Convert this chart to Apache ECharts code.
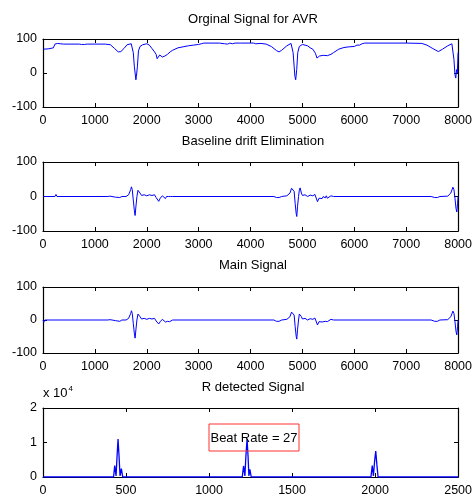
<!DOCTYPE html>
<html>
<head>
<meta charset="utf-8">
<script src="https://cdn.jsdelivr.net/npm/echarts@6/dist/echarts.min.js"></script>
<style>html,body{margin:0;padding:0;background:#fff}#c{width:475px;height:500px}</style>
</head>
<body>
<div id="c"></div>
<script>
// ---- Data ----
var titles = ['Orginal Signal for AVR', 'Baseline drift Elimination', 'Main Signal', 'R detected Signal'];
var signalTicksX = [0, 1000, 2000, 3000, 4000, 5000, 6000, 7000, 8000];
var signalTicksY = [-100, 0, 100];
var rTicksX = [0, 500, 1000, 1500, 2000, 2500];
var rTicksY = [0, 10000, 20000];
var beatRateText = 'Beat Rate = 27';

var originalSignal = [
 [0,70],[100,71],[200,74],[230,85],[260,84],[280,87],[300,84],[330,86],[360,84],[400,85],[500,85],[700,85],
 [720,88],[740,84],[760,87],[800,84],[820,88],[850,85],[1000,85],[1200,85],[1300,83],[1380,72],[1450,62],
 [1500,63],[1560,72],[1620,83],[1700,86],[1720,83],[1740,60],[1760,20],[1775,0],[1790,-20],[1800,-10],
 [1820,20],[1840,65],[1870,78],[1920,83],[2000,86],[2050,82],[2100,72],[2150,62],[2180,55],[2200,42],
 [2220,45],[2250,53],[2280,50],[2300,47],[2350,50],[2400,55],[2450,62],[2500,67],[2600,74],[2700,77],
 [2800,80],[2900,82],[3000,84],[3020,88],[3050,86],[3100,88],[3400,88],[3500,86],[3530,88],[3560,85],
 [3600,88],[3650,86],[3700,88],[3800,88],[4000,88],[4030,85],[4060,88],[4100,86],[4200,87],[4300,85],
 [4400,78],[4500,66],[4550,62],[4600,67],[4700,80],[4780,87],[4800,84],[4820,60],[4840,20],[4855,-10],
 [4870,-20],[4890,10],[4910,60],[4940,78],[5000,84],[5100,80],[5150,74],[5200,70],[5250,58],[5280,44],
 [5300,43],[5330,50],[5400,52],[5480,51],[5550,55],[5600,60],[5700,70],[5800,75],[5900,77],[6000,78],
 [6050,82],[6080,85],[6100,82],[6150,86],[6200,88],[7000,88],[7300,87],[7400,82],[7500,73],[7620,63],
 [7700,70],[7800,80],[7880,86],[7900,82],[7920,40],[7940,-5],[7955,-15],[7970,10],[7985,0],[8000,60]
];

var baselineSignal = [
 [0,0],[30,-3],[60,0],[230,0],[250,6],[270,0],[1250,0],[1270,3],[1290,1],[1310,2],[1330,0],[1400,-2],
 [1480,-3],[1520,0],[1600,0],[1650,5],[1690,20],[1705,28],[1720,20],[1740,-10],[1760,-40],[1775,-55],
 [1790,-30],[1810,0],[1830,18],[1846,23],[1870,10],[1900,3],[1950,5],[2000,2],[2050,5],[2080,0],[2100,3],
 [2150,5],[2180,-3],[2230,-14],[2260,-5],[2300,2],[2330,-2],[2360,-6],[2380,0],[2400,-4],[2420,0],
 [2440,-5],[2460,0],[2500,0],[4450,0],[4500,-3],[4550,-3],[4600,0],[4700,2],[4760,10],[4790,24],
 [4820,28],[4840,15],[4860,-20],[4880,-50],[4891,-58],[4905,-30],[4925,0],[4940,18],[4955,25],[4980,10],
 [5000,3],[5050,5],[5100,0],[5150,4],[5200,2],[5240,6],[5290,-15],[5320,-5],[5350,0],[5380,-6],[5400,0],
 [5440,-4],[5460,2],[5480,-5],[5500,0],[5550,2],[5600,0],[7420,0],[7450,5],[7480,0],[7550,-3],[7600,-3],
 [7650,0],[7800,1],[7860,10],[7900,27],[7920,20],[7940,-5],[7960,-35],[7975,-45],[7990,-20],[8000,0]
];

var mainSignal = [
 [0,0],[15,-7],[35,0],[230,0],[250,6],[270,0],[1250,0],[1270,3],[1290,1],[1310,2],[1330,0],[1400,-2],
 [1480,-4],[1520,0],[1600,0],[1650,5],[1690,20],[1705,28],[1720,20],[1740,-10],[1760,-40],[1775,-55],
 [1790,-30],[1810,0],[1830,18],[1846,22],[1870,10],[1900,3],[1950,5],[2000,2],[2050,5],[2080,0],[2100,3],
 [2150,5],[2180,-3],[2230,-12],[2260,-5],[2300,2],[2330,-2],[2360,-6],[2380,0],[2400,-4],[2420,0],
 [2440,-5],[2460,0],[2500,0],[4450,0],[4500,-4],[4550,-4],[4600,0],[4700,2],[4760,10],[4790,24],
 [4820,28],[4840,15],[4860,-20],[4880,-50],[4891,-58],[4905,-30],[4925,0],[4940,18],[4955,22],[4980,10],
 [5000,3],[5050,5],[5100,0],[5150,4],[5200,2],[5240,6],[5290,-15],[5320,-5],[5350,0],[5380,-6],[5400,0],
 [5440,-4],[5460,2],[5480,-5],[5500,0],[5550,2],[5600,0],[7420,0],[7450,5],[7480,0],[7550,-4],[7600,-4],
 [7650,0],[7800,1],[7860,10],[7900,27],[7920,20],[7940,-5],[7960,-35],[7975,-45],[7990,-20],[8000,0]
];

var rDetected = [
 [0,0],[425,0],[432,3300],[440,300],[446,6000],[452,11000],[458,6000],[464,300],[472,2400],[480,0],
 [1200,0],[1208,3200],[1216,300],[1222,6000],[1229,11000],[1235,6000],[1240,300],[1246,2200],[1254,0],
 [1975,0],[1983,3300],[1990,300],[1997,4500],[2004,7500],[2011,3500],[2018,0],[2500,0]
];

// ---- Chart ----
var FONT = 'Liberation Sans';
var grids = [
  {left: 43, right: 12, top: 39, height: 68},
  {left: 43, right: 12, top: 162, height: 69},
  {left: 43, right: 12, top: 287, height: 66},
  {left: 43, right: 12, top: 408, height: 69}
];
var titleTops = [13, 135, 259, 381];
var seriesData = [originalSignal, baselineSignal, mainSignal, rDetected];

function axisCommon(showLabel, position, min, max, interval, fmt, margin) {
  return {
    type: 'value', position: position, min: min, max: max, interval: interval,
    axisLine: {show: true, onZero: false, lineStyle: {color: '#000', width: 1.2}},
    axisTick: {show: true, inside: true, length: 4, lineStyle: {color: '#000'}},
    splitLine: {show: false},
    axisLabel: {show: showLabel, color: '#000', fontSize: 12.5, fontFamily: FONT, margin: margin,
      formatter: fmt, showMinLabel: true, showMaxLabel: true}
  };
}

var xAxes = [], yAxes = [], series = [];
for (var i = 0; i < 4; i++) {
  var isR = (i === 3);
  var xt = isR ? rTicksX : signalTicksX;
  var yt = isR ? rTicksY : signalTicksY;
  var xmin = xt[0], xmax = xt[xt.length - 1], xint = xt[1] - xt[0];
  var ymin = yt[0], ymax = yt[yt.length - 1], yint = yt[1] - yt[0];
  var yfmt = isR ? function (v) { return String(v / 10000); } : function (v) { return String(v); };
  var xb = axisCommon(true, 'bottom', xmin, xmax, xint, function (v) { return String(v); }, 7); xb.gridIndex = i;
  xAxes.push(xb);
  var yl = axisCommon(true, 'left', ymin, ymax, yint, yfmt, 6); yl.gridIndex = i;
  yAxes.push(yl);
}
for (var j = 0; j < 4; j++) {
  var isR2 = (j === 3);
  var xt2 = isR2 ? rTicksX : signalTicksX;
  var yt2 = isR2 ? rTicksY : signalTicksY;
  var xa = axisCommon(false, 'top', xt2[0], xt2[xt2.length - 1], xt2[1] - xt2[0], null, 7); xa.gridIndex = j;
  xAxes.push(xa);
  var ya = axisCommon(false, 'right', yt2[0], yt2[yt2.length - 1], yt2[1] - yt2[0], null, 6); ya.gridIndex = j;
  yAxes.push(ya);
  series.push({
    type: 'line', xAxisIndex: j, yAxisIndex: j, data: seriesData[j],
    showSymbol: false, symbol: 'none', clip: true,
    lineStyle: {color: '#0000ff', width: isR2 ? 1.3 : 1},
    emphasis: {disabled: true}
  });
}

var chart = echarts.init(document.getElementById('c'), null, {renderer: 'canvas'});
chart.setOption({
  animation: false,
  backgroundColor: '#fff',
  title: titles.map(function (t, k) {
    return {text: t, left: 253, top: titleTops[k], textAlign: 'center', padding: 0,
      textStyle: {fontSize: 13, fontWeight: 'normal', color: '#000', fontFamily: FONT}};
  }),
  grid: grids,
  xAxis: xAxes,
  yAxis: yAxes,
  series: series,
  graphic: [
    {type: 'text', left: 43, top: 385, style: {
      text: 'x 10{s|4}', fill: '#000', font: '13px ' + FONT,
      rich: {s: {fontSize: 8, fontFamily: FONT, verticalAlign: 'top', padding: [0, 0, 8, 1]}}
    }},
    {type: 'rect', shape: {x: 209, y: 424, width: 90, height: 27}, style: {fill: 'none', stroke: '#ff3030', lineWidth: 1}, z: 10},
    {type: 'text', x: 254, y: 438, style: {text: beatRateText, fill: '#000', font: '13px ' + FONT, textAlign: 'center', textVerticalAlign: 'middle'}, z: 11}
  ]
});
</script>
</body>
</html>
